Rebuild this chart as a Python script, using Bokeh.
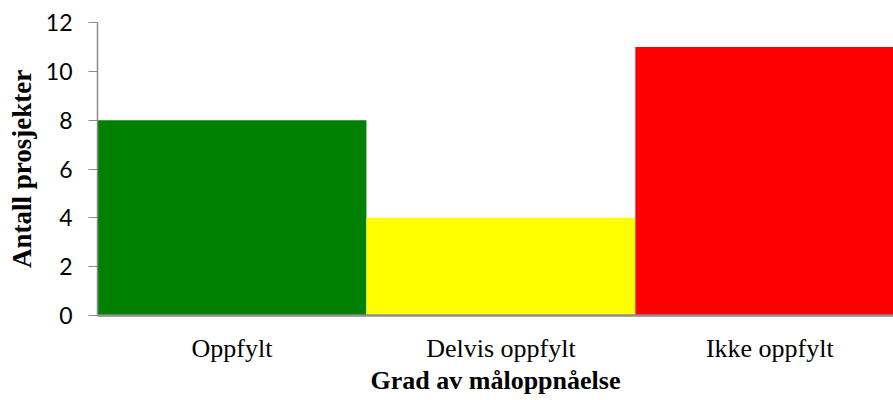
from bokeh.plotting import figure
from bokeh.models import Range1d, FixedTicker, ColumnDataSource
from bokeh.embed import file_html
from bokeh.resources import INLINE

categories = ["Oppfylt", "Delvis oppfylt", "Ikke oppfylt"]
counts = [8, 4, 11]
colors = ["#008000", "#FFFF00", "#FF0000"]
y_ticks = [0, 2, 4, 6, 8, 10, 12]

xs = [i + 0.5 for i in range(len(categories))]
src = ColumnDataSource(dict(x=xs, top=counts, color=colors, cat=categories))

p = figure(width=893, height=400, output_backend="svg", toolbar_location=None,
           x_range=Range1d(0, 2.96), y_range=Range1d(0, 12),
           min_border_left=97, min_border_right=0, min_border_top=22, min_border_bottom=85)
p.outline_line_color = None
p.grid.visible = False
p.background_fill_color = "white"

p.vbar(x="x", top="top", width=1.0, bottom=0, fill_color="color", line_color=None, source=src)

# y axis
ya = p.yaxis[0]
ya.ticker = FixedTicker(ticks=y_ticks)
ya.axis_line_color = "#8c8c8c"
ya.axis_line_width = 1.5
ya.major_tick_line_color = "#8c8c8c"
ya.major_tick_out = 9
ya.major_tick_in = 0
ya.minor_tick_line_color = None
ya.major_label_text_font = "Lato"
ya.major_label_text_font_size = "23px"
ya.major_label_text_color = "black"
ya.major_label_standoff = 16
ya.axis_label = "Antall prosjekter"
ya.axis_label_text_font = "Liberation Serif"
ya.axis_label_text_font_style = "bold"
ya.axis_label_text_font_size = "27px"
ya.axis_label_text_color = "black"
ya.axis_label_standoff = 6

# x axis
xa = p.xaxis[0]
xa.ticker = FixedTicker(ticks=xs)
xa.major_label_overrides = {x: c for x, c in zip(xs, categories)}
xa.axis_line_color = "#8c8c8c"
xa.axis_line_width = 2.5
xa.major_tick_line_color = None
xa.major_tick_out = 0
xa.minor_tick_line_color = None
xa.major_label_text_font = "Liberation Serif"
xa.major_label_text_font_size = "26px"
xa.major_label_text_color = "black"
xa.major_label_standoff = 18
xa.axis_label = "Grad av måloppnåelse"
xa.axis_label_text_font = "Liberation Serif"
xa.axis_label_text_font_style = "bold"
xa.axis_label_text_font_size = "26px"
xa.axis_label_text_color = "black"
xa.axis_label_standoff = 0

open("out.html", "w").write(file_html(p, INLINE))
